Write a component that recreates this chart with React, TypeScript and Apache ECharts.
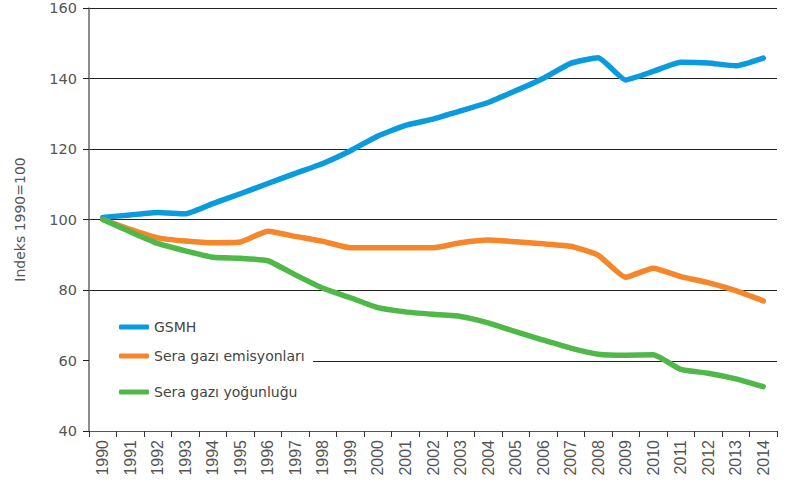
import React, { useEffect, useRef } from "react";
import * as echarts from "echarts";

const years = ["1990","1991","1992","1993","1994","1995","1996","1997","1998","1999","2000","2001","2002","2003","2004","2005","2006","2007","2008","2009","2010","2011","2012","2013","2014"];
const gsmh = [100.6,101.3,102.0,101.6,104.5,107.3,110.2,113.1,115.9,119.5,123.7,126.7,128.5,130.8,133.2,136.5,140.0,144.3,145.9,139.6,142.0,144.6,144.4,143.6,145.8];
const emisyon = [100,97.2,94.8,93.9,93.4,93.6,96.7,95.2,93.8,92.0,92.0,92.0,92.0,93.4,94.2,93.7,93.1,92.4,89.9,83.6,86.2,83.8,82.1,79.8,76.9];
const yogunluk = [100,96.5,93.2,91.1,89.3,89.0,88.3,84.3,80.5,77.8,75.0,73.8,73.1,72.5,70.7,68.2,65.8,63.5,61.8,61.5,61.6,57.5,56.4,54.8,52.6];
const seriesNames = ["GSMH", "Sera gazı emisyonları", "Sera gazı yoğunluğu"];
const colors = ["#0a9ade", "#f5862a", "#4fb848"];
const gridColor = "#222";

export default function App() {
  const ref = useRef<HTMLDivElement>(null);
  useEffect(() => {
    if (!ref.current) return;
    const chart = echarts.init(ref.current, null, { renderer: "svg" });
    const legendText = { fontFamily: "DejaVu Sans", fontSize: 14, color: "#444" };
    const mkLegend = (name: string, top: number) => ({
      data: [name],
      left: 119,
      top,
      orient: "vertical",
      icon: "roundRect",
      itemWidth: 30,
      itemHeight: 5,
      itemGap: 0,
      padding: 0,
      selectedMode: false,
      textStyle: legendText,
    });
    chart.setOption({
      animation: false,
      color: colors,
      textStyle: { fontFamily: "DejaVu Sans" },
      grid: { left: 89, right: 10, top: 8, bottom: 60, containLabel: false },
      legend: [
        mkLegend(seriesNames[0], 320),
        mkLegend(seriesNames[1], 349),
        mkLegend(seriesNames[2], 385),
      ],
      xAxis: {
        type: "category",
        data: years,
        boundaryGap: true,
        axisLine: { lineStyle: { color: "#555", width: 1 } },
        axisTick: { show: true, length: 6, lineStyle: { color: "#333" } },
        axisLabel: {
          rotate: 90,
          margin: 9,
          fontFamily: "Liberation Sans",
          fontSize: 16,
          color: "#555",
          interval: 0,
        },
        splitLine: { show: false },
      },
      yAxis: {
        type: "value",
        min: 40,
        max: 160,
        interval: 20,
        name: "Indeks 1990=100",
        nameLocation: "middle",
        nameGap: 62,
        nameTextStyle: { fontFamily: "DejaVu Sans", fontSize: 14, color: "#555" },
        axisLine: { show: true, lineStyle: { color: "#666", width: 1.5 } },
        axisTick: { show: true, length: 6, lineStyle: { color: "#222" } },
        axisLabel: { fontFamily: "DejaVu Sans", fontSize: 14.5, color: "#555", margin: 12 },
        splitLine: {
          show: true,
          lineStyle: {
            color: [gridColor, "rgba(0,0,0,0)", gridColor, gridColor, gridColor, gridColor, gridColor],
            width: 1,
          },
        },
      },
      series: [
        { name: seriesNames[0], type: "line", data: gsmh },
        { name: seriesNames[1], type: "line", data: emisyon },
        { name: seriesNames[2], type: "line", data: yogunluk },
      ].map((s) => ({
        ...s,
        symbol: "none",
        showSymbol: false,
        smooth: 0.15,
        lineStyle: { width: 5.5, cap: "round", join: "round" },
        z: 3,
      })),
    });
    // partial gridline at 60 (the left part is hidden behind the legend box in the original)
    const y60 = chart.convertToPixel({ yAxisIndex: 0 }, 60) as number;
    const yy = Math.round(y60) + 0.5;
    chart.setOption({
      graphic: [
        {
          type: "line",
          silent: true,
          shape: { x1: 313, y1: yy, x2: 777, y2: yy },
          style: { stroke: gridColor, lineWidth: 1 },
          z: 0,
        },
      ],
    });
    return () => chart.dispose();
  }, []);
  return <div ref={ref} style={{ width: 787, height: 491, position: "absolute", left: 0, top: 0 }} />;
}
